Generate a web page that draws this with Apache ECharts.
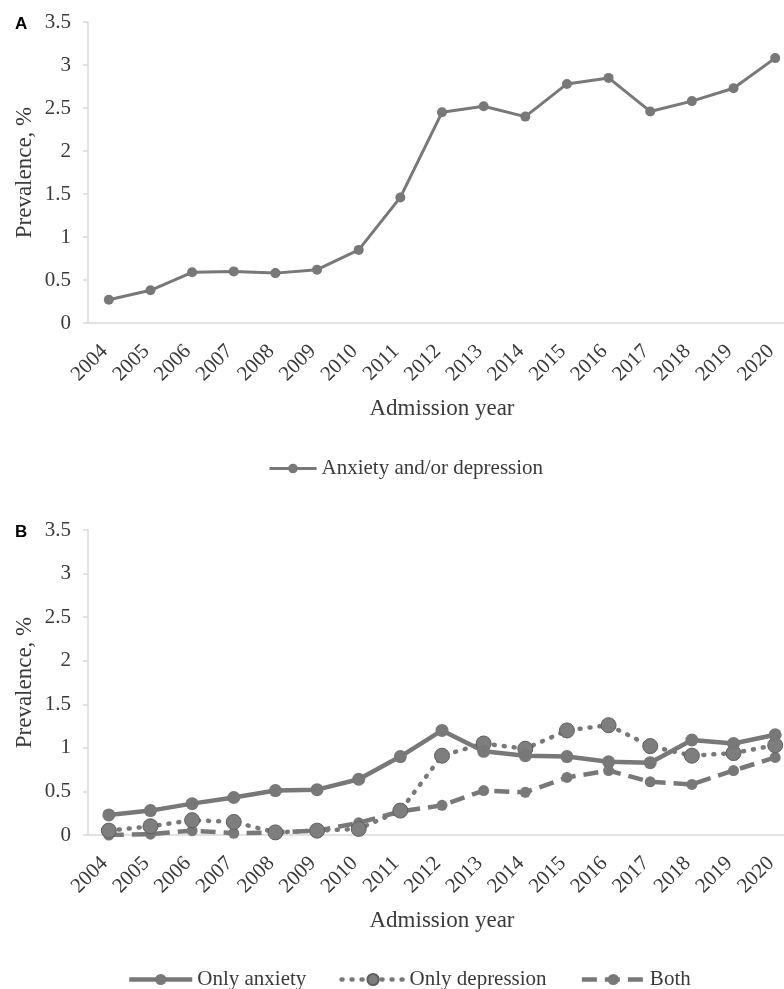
<!DOCTYPE html>
<html>
<head>
<meta charset="utf-8">
<script src="https://cdn.jsdelivr.net/npm/echarts@6/dist/echarts.min.js"></script>
<style>
  html, body { margin: 0; padding: 0; background: #fff; }
  #chart { width: 784px; height: 989px; }
</style>
</head>
<body>
<div id="chart"></div>
<script>
const years = ['2004','2005','2006','2007','2008','2009','2010','2011','2012','2013','2014','2015','2016','2017','2018','2019','2020'];
const yTicks = [0, 0.5, 1, 1.5, 2, 2.5, 3, 3.5];
const anxietyOrDepression = [0.27, 0.38, 0.59, 0.60, 0.58, 0.62, 0.85, 1.46, 2.45, 2.52, 2.40, 2.78, 2.85, 2.46, 2.58, 2.73, 3.08];
const onlyAnxiety = [0.23, 0.28, 0.36, 0.43, 0.51, 0.52, 0.64, 0.90, 1.20, 0.96, 0.91, 0.90, 0.84, 0.83, 1.09, 1.05, 1.15];
const onlyDepression = [0.05, 0.10, 0.17, 0.15, 0.03, 0.05, 0.07, 0.28, 0.91, 1.05, 0.99, 1.20, 1.26, 1.02, 0.91, 0.94, 1.03];
const both = [0.00, 0.01, 0.05, 0.02, 0.03, 0.05, 0.14, 0.27, 0.34, 0.51, 0.49, 0.66, 0.74, 0.61, 0.58, 0.74, 0.89];

const serif = 'Liberation Serif';
const textColor = '#3a3a3a';
const axisGray = '#d9d9d9';
const lineGray = '#787878';

const dashBoth = [15, 8];
const dotDep = [1, 9];

function xAxis(gridIndex) {
  return {
    type: 'category', gridIndex, data: years, boundaryGap: true,
    name: 'Admission year', nameLocation: 'middle', nameGap: 74, nameMoveOverlap: false,
    nameTextStyle: { fontFamily: serif, fontSize: 23, color: textColor },
    axisLine: { lineStyle: { color: axisGray, width: 1.5 } },
    axisTick: { show: false },
    axisLabel: { rotate: 45, interval: 0, margin: 21, padding: [0, 6, 0, 0], fontFamily: serif, fontSize: 21, color: textColor }
  };
}
function yAxis(gridIndex) {
  return {
    type: 'value', gridIndex, min: yTicks[0], max: yTicks[yTicks.length - 1], interval: 0.5,
    name: 'Prevalence, %', nameLocation: 'middle', nameGap: 52, nameMoveOverlap: false,
    nameTextStyle: { fontFamily: serif, fontSize: 23, color: textColor },
    axisLine: { show: true, lineStyle: { color: axisGray, width: 1.5 } },
    axisTick: { show: true, length: 5, lineStyle: { color: axisGray, width: 1.5 } },
    splitLine: { show: false },
    axisLabel: { margin: 17, fontFamily: serif, fontSize: 21, color: textColor }
  };
}

const chart = echarts.init(document.getElementById('chart'), null, { renderer: 'canvas' });
chart.setOption({
  animation: false,
  backgroundColor: '#ffffff',
  title: [
    { text: 'A', left: 10, top: 11, textStyle: { fontFamily: 'Liberation Sans', fontWeight: 'bold', fontSize: 17, color: '#000' } },
    { text: 'B', left: 10, top: 519, textStyle: { fontFamily: 'Liberation Sans', fontWeight: 'bold', fontSize: 17, color: '#000' } }
  ],
  grid: [
    { left: 88, right: -12, top: 22, height: 301, outerBoundsMode: 'none', containLabel: false },
    { left: 88, right: -12, top: 530, height: 305, outerBoundsMode: 'none', containLabel: false }
  ],
  xAxis: [xAxis(0), xAxis(1)],
  yAxis: [yAxis(0), yAxis(1)],
  legend: [
    { data: [{ name: 'Anxiety and/or depression', lineStyle: { width: 3 } }], left: 268, top: 458, padding: 0,
      itemWidth: 47, itemHeight: 12, itemGap: 35,
      textStyle: { fontFamily: serif, fontSize: 21, color: textColor } },
    { data: [
        { name: 'Only anxiety', lineStyle: { width: 4.5 } },
        { name: 'Only depression', lineStyle: { width: 4.5, type: dotDep, cap: 'round' } },
        { name: 'Both', lineStyle: { width: 4.5, type: dashBoth } }
      ], left: 127, top: 969, padding: 0, itemWidth: 63, itemHeight: 14, itemGap: 33,
      textStyle: { fontFamily: serif, fontSize: 21, color: textColor } }
  ],
  series: [
    { name: 'Anxiety and/or depression', type: 'line', xAxisIndex: 0, yAxisIndex: 0, data: anxietyOrDepression,
      symbol: 'circle', symbolSize: 10, lineStyle: { color: lineGray, width: 3 }, itemStyle: { color: lineGray } },
    { name: 'Both', type: 'line', xAxisIndex: 1, yAxisIndex: 1, data: both,
      symbol: 'circle', symbolSize: 11, lineStyle: { color: lineGray, width: 4.5, type: dashBoth }, itemStyle: { color: lineGray } },
    { name: 'Only depression', type: 'line', xAxisIndex: 1, yAxisIndex: 1, data: onlyDepression,
      symbol: 'circle', symbolSize: 15, lineStyle: { color: lineGray, width: 4.5, type: dotDep, cap: 'round' },
      itemStyle: { color: '#7e7e7e', borderColor: '#5e5e5e', borderWidth: 1 } },
    { name: 'Only anxiety', type: 'line', xAxisIndex: 1, yAxisIndex: 1, data: onlyAnxiety,
      symbol: 'circle', symbolSize: 13, lineStyle: { color: lineGray, width: 4.5 }, itemStyle: { color: lineGray } }
  ]
});
</script>
</body>
</html>
